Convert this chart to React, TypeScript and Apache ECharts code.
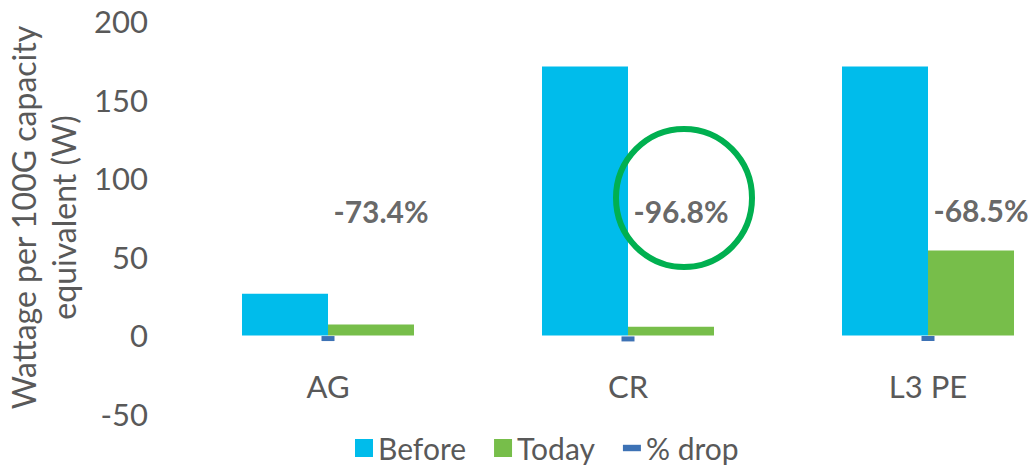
import React, { useEffect, useRef } from "react";
import * as echarts from "echarts";

const categories = ["AG", "CR", "L3 PE"];
const beforeValues = [26.5, 171, 171];
const todayValues = [7, 5.5, 54];
const dropPct = [-73.4, -96.8, -68.5];
const yTicks = { min: -50, max: 200, interval: 50 };

const FONT = "Lato, 'Liberation Sans', sans-serif";
const TEXT = "#595959";

export default function App() {
  const ref = useRef<HTMLDivElement>(null);
  useEffect(() => {
    const chart = echarts.init(ref.current!, null, { renderer: "svg" });
    chart.setOption({
      animation: false,
      textStyle: { fontFamily: FONT },
      grid: { left: 178, width: 900, top: 21, bottom: 54, outerBoundsMode: "none", containLabel: false },
      xAxis: {
        type: "category",
        data: categories,
        axisLine: { show: false },
        axisTick: { show: false },
        axisLabel: { color: TEXT, fontSize: 31, fontFamily: FONT, margin: -44 },
      },
      yAxis: {
        type: "value",
        min: yTicks.min,
        max: yTicks.max,
        interval: yTicks.interval,
        splitLine: { show: false },
        axisLine: { show: false },
        axisTick: { show: false },
        axisLabel: { color: TEXT, fontSize: 31, fontFamily: FONT, margin: 30 },
        name: "Wattage per 100G capacity\nequivalent (W)",
        nameLocation: "middle",
        nameRotate: 90,
        nameGap: 86,
        nameTextStyle: { color: TEXT, fontSize: 32, fontFamily: FONT, lineHeight: 40 },
      },
      legend: {
        bottom: 0,
        left: 350,
        itemWidth: 18,
        itemHeight: 18,
        itemGap: 28,
        textStyle: { color: TEXT, fontSize: 30, fontFamily: FONT },
        data: [
          { name: "Before", icon: "rect" },
          { name: "Today", icon: "rect" },
          { name: "% drop", icon: "path://M0,0 H14 V5 H0 Z" },
        ],
      },
      series: [
        {
          name: "Before",
          type: "bar",
          data: beforeValues,
          barWidth: 86,
          barGap: "0%",
          itemStyle: { color: "#00BCEB" },
        },
        {
          name: "Today",
          type: "bar",
          data: todayValues,
          barWidth: 86,
          itemStyle: { color: "#77BE4A" },
        },
        {
          name: "% drop",
          type: "scatter",
          data: dropPct.map((v) => v / 100),
          symbol: "rect",
          symbolSize: [13, 5],
          symbolOffset: [0, 2],
          itemStyle: { color: "#0D4FA3" },
          z: 5,
          label: {
            show: true,
            position: "inside",
            offset: [53, -128],
            formatter: (p: any) => dropPct[p.dataIndex].toFixed(1) + "%",
            color: "#404040",
            fontSize: 30,
            fontWeight: "bold",
            fontFamily: FONT,
          },
        },
      ],
      graphic: [
        {
          type: "ellipse",
          shape: { cx: 684, cy: 198, rx: 68, ry: 69 },
          style: { fill: "none", stroke: "#00B050", lineWidth: 6 },
          z: 10,
        },
      ],
    });
    return () => chart.dispose();
  }, []);
  return (
    <div
      ref={ref}
      style={{ position: "fixed", left: 0, top: 0, width: 1030, height: 468, background: "#fff" }}
    />
  );
}
